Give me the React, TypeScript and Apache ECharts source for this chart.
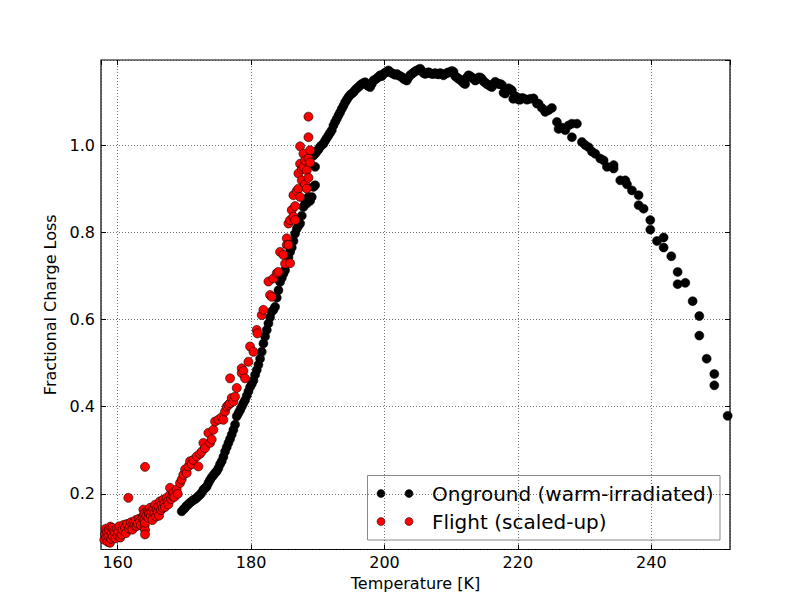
import React, { useEffect, useRef } from "react";
import * as echarts from "echarts";

// Onground (warm-irradiated): temperature [K] and fractional charge loss
const ongroundT = [
  169.6, 169.9, 170.1, 170.35, 170.6, 170.85, 171.1, 171.35, 171.6, 171.85, 172.1, 172.35, 172.6, 172.85,
  173.1, 173.35, 173.6, 173.85, 174.1, 174.35, 174.6, 174.85, 175.1, 175.35, 175.6, 175.85, 176.1, 176.35,
  176.6, 176.85, 177.1, 177.35, 177.6, 177.85, 178.1, 178.35, 178.6, 178.85, 179.1, 179.35, 179.6, 179.85,
  180.1, 180.35, 180.6, 180.85, 181.1, 181.35, 181.6, 181.85, 182.1, 182.35, 182.6, 182.85, 183.1, 183.35,
  183.6, 183.85, 184.1, 184.35, 184.6, 184.85, 185.1, 185.35, 185.6, 185.85, 186.1, 186.35, 186.6, 186.85,
  187.1, 187.35, 187.6, 187.85, 188.1, 188.35, 188.6, 188.85, 189.1, 189.35, 189.6, 189.6, 189.35, 189.6,
  189.85, 190.1, 190.35, 190.6, 190.85, 191.1, 191.35, 191.6, 191.85, 192.1, 192.35, 192.6, 192.85, 193.1,
  193.35, 193.6, 193.85, 194.1, 194.35, 194.6, 194.85, 195.1, 195.35, 195.6, 195.85, 196.1, 196.35, 196.6,
  196.85, 197.1, 197.35, 197.6, 197.85, 198.1, 198.35, 198.6, 198.85, 199.1, 199.35, 199.6, 199.85, 200.1,
  200.35, 200.6, 200.85, 201.1, 201.35, 201.6, 201.85, 202.1, 202.35, 202.6, 202.85, 203.1, 203.35, 203.6,
  203.85, 204.1, 204.35, 204.6, 204.85, 205.1, 205.35, 205.6, 205.85, 206.1, 206.35, 206.6, 206.85, 207.1,
  207.35, 207.6, 207.85, 208.1, 208.35, 208.6, 208.85, 209.1, 209.35, 209.6, 209.85, 210.1, 210.35, 210.6,
  210.85, 211.1, 211.35, 211.6, 211.85, 212.1, 212.35, 212.6, 212.85, 213.1, 213.35, 213.6, 213.85, 214.1,
  214.35, 214.6, 214.85, 215.1, 215.35, 215.6, 215.85, 216.1, 216.35, 216.6, 216.85, 217.1, 217.35, 217.6,
  217.85, 218.1, 218.35, 218.6, 218.85, 219.1, 219.3, 219.6, 219.85, 220.1, 220.35, 220.6, 220.85, 221.35,
  221.85, 222.35, 222.85, 223.1, 223.6, 224.1, 224.6, 225.1, 225.85, 226.1, 226.6, 227.1, 227.6, 228.1,
  228.1, 228.85, 229.6, 230.1, 230.6, 231.1, 231.6, 232.35, 232.85, 233.35, 234.35, 234.35, 235.35, 236.1,
  236.35, 237.1, 238.1, 238.1, 238.85, 239.85, 239.85, 240.85, 241.85, 241.85, 243.0, 243.95, 243.95, 245.1,
  246.2, 247.2, 247.2, 248.3, 249.45, 249.45, 251.45,
];
const ongroundLoss = [
  0.16, 0.165, 0.168, 0.173, 0.176, 0.18, 0.183, 0.186, 0.188, 0.191, 0.195, 0.198, 0.203, 0.21,
  0.213, 0.217, 0.225, 0.232, 0.238, 0.243, 0.248, 0.252, 0.259, 0.268, 0.275, 0.285, 0.297, 0.307,
  0.317, 0.326, 0.336, 0.347, 0.359, 0.378, 0.385, 0.392, 0.4, 0.408, 0.415, 0.425, 0.435, 0.445,
  0.452, 0.46, 0.473, 0.484, 0.496, 0.51, 0.526, 0.545, 0.561, 0.576, 0.591, 0.605, 0.618, 0.622,
  0.629, 0.65, 0.667, 0.686, 0.695, 0.705, 0.713, 0.729, 0.742, 0.755, 0.765, 0.78, 0.797, 0.808,
  0.815, 0.82, 0.838, 0.858, 0.866, 0.866, 0.881, 0.872, 0.881, 0.904, 0.908, 0.95, 0.976, 0.98,
  0.985, 0.99, 0.996, 1.0, 1.003, 1.01, 1.016, 1.022, 1.028, 1.034, 1.045, 1.053, 1.06, 1.068,
  1.075, 1.083, 1.09, 1.098, 1.104, 1.11, 1.115, 1.118, 1.121, 1.126, 1.13, 1.133, 1.137, 1.14,
  1.142, 1.144, 1.138, 1.135, 1.133, 1.14, 1.148, 1.15, 1.153, 1.156, 1.16, 1.158, 1.163, 1.166,
  1.168, 1.171, 1.167, 1.165, 1.163, 1.161, 1.163, 1.16, 1.158, 1.156, 1.152, 1.15, 1.148, 1.155,
  1.16, 1.163, 1.166, 1.169, 1.171, 1.173, 1.175, 1.17, 1.165, 1.163, 1.165, 1.167, 1.165, 1.163,
  1.163, 1.165, 1.163, 1.162, 1.165, 1.163, 1.16, 1.163, 1.165, 1.167, 1.167, 1.17, 1.168, 1.158,
  1.155, 1.152, 1.15, 1.146, 1.142, 1.14, 1.155, 1.16, 1.158, 1.155, 1.152, 1.148, 1.15, 1.155,
  1.155, 1.152, 1.146, 1.143, 1.14, 1.138, 1.135, 1.133, 1.14, 1.145, 1.142, 1.14, 1.14, 1.138,
  1.12, 1.118, 1.125, 1.13, 1.128, 1.125, 1.106, 1.112, 1.11, 1.104, 1.104, 1.108, 1.107, 1.104,
  1.106, 1.107, 1.095, 1.095, 1.085, 1.076, 1.08, 1.085, 1.053, 1.037, 1.04, 1.034, 1.045, 1.049,
  1.018, 1.049, 1.007, 1.0, 0.995, 0.985, 0.98, 0.969, 0.965, 0.95, 0.954, 0.946, 0.919, 0.919,
  0.91, 0.896, 0.885, 0.862, 0.854, 0.828, 0.806, 0.78, 0.788, 0.765, 0.745, 0.709, 0.681, 0.684,
  0.642, 0.608, 0.563, 0.51, 0.475, 0.449, 0.379,
];

// Flight (scaled-up)
const flightT = [
  158.0, 158.1, 158.2, 158.3, 158.4, 158.5, 158.6, 158.7, 158.85, 158.9, 159.0, 159.1, 159.2, 159.3,
  159.45, 159.6, 159.7, 159.85, 160.0, 160.1, 160.25, 160.4, 160.6, 160.7, 160.9, 161.1, 161.25, 161.4,
  161.6, 161.7, 161.85, 162.0, 162.2, 162.35, 162.55, 162.7, 162.85, 163.0, 163.2, 163.35, 163.5, 163.7,
  163.85, 163.85, 164.0, 164.0, 164.05, 164.1, 164.1, 164.1, 164.1, 164.3, 164.45, 164.6, 164.6, 164.75,
  164.85, 165.0, 165.1, 165.2, 165.35, 165.5, 165.6, 165.75, 165.85, 166.0, 166.1, 166.2, 166.35, 166.5,
  166.6, 166.75, 166.85, 167.0, 167.1, 167.35, 167.5, 167.6, 167.85, 167.85, 168.0, 168.2, 168.35, 168.5,
  168.85, 169.0, 169.35, 169.6, 169.85, 170.1, 170.35, 170.6, 170.85, 171.1, 171.35, 171.85, 172.1, 172.35,
  172.6, 172.85, 173.1, 173.6, 173.85, 174.1, 174.35, 174.6, 175.1, 175.6, 175.85, 176.1, 176.35, 176.6,
  176.85, 176.85, 177.1, 177.35, 177.6, 177.85, 178.6, 178.6, 178.85, 179.1, 179.6, 179.85, 180.35, 180.85,
  180.95, 181.6, 181.85, 182.6, 182.85, 183.1, 183.35, 183.85, 184.1, 184.35, 184.85, 185.1, 185.35, 185.35,
  185.6, 185.6, 185.85, 185.85, 186.1, 186.35, 186.35, 186.6, 186.6, 186.85, 187.1, 187.1, 187.35, 187.35,
  187.35, 187.6, 187.6, 187.85, 187.85, 188.1, 188.1, 188.35, 188.35, 188.6, 188.6, 188.6, 188.6, 188.85,
  188.85,
];
const flightLoss = [
  0.095, 0.108, 0.12, 0.1, 0.113, 0.09, 0.103, 0.118, 0.088, 0.125, 0.097, 0.11, 0.122, 0.102,
  0.115, 0.111, 0.098, 0.12, 0.105, 0.114, 0.126, 0.1, 0.107, 0.118, 0.129, 0.122, 0.11, 0.131,
  0.191, 0.12, 0.126, 0.135, 0.118, 0.134, 0.128, 0.14, 0.126, 0.132, 0.143, 0.137, 0.128, 0.145,
  0.149, 0.164, 0.155, 0.14, 0.128, 0.117, 0.107, 0.262, 0.134, 0.15, 0.162, 0.16, 0.145, 0.155,
  0.168, 0.15, 0.16, 0.14, 0.164, 0.155, 0.175, 0.148, 0.165, 0.158, 0.172, 0.15, 0.183, 0.163,
  0.176, 0.168, 0.187, 0.178, 0.17, 0.191, 0.182, 0.176, 0.198, 0.214, 0.188, 0.195, 0.202, 0.193,
  0.21, 0.2, 0.225, 0.233, 0.244, 0.256, 0.248, 0.263, 0.275, 0.268, 0.278, 0.286, 0.263, 0.292,
  0.297, 0.317, 0.305, 0.34, 0.317, 0.325, 0.347, 0.366, 0.37, 0.376, 0.37, 0.389, 0.4, 0.404,
  0.408, 0.465, 0.42, 0.412, 0.423, 0.443, 0.488, 0.477, 0.482, 0.465, 0.503, 0.538, 0.526, 0.576,
  0.568, 0.61, 0.622, 0.687, 0.656, 0.652, 0.694, 0.706, 0.709, 0.755, 0.748, 0.728, 0.786, 0.771,
  0.82, 0.771, 0.828, 0.729, 0.851, 0.885, 0.836, 0.828, 0.86, 0.895, 0.935, 0.9, 0.957, 0.997,
  0.881, 0.919, 0.945, 0.98, 0.95, 0.965, 0.91, 0.942, 0.9, 0.969, 1.018, 1.065, 0.925, 0.988,
  0.96,
];

const seriesNames = ["Onground (warm-irradiated)", "Flight (scaled-up)"];
const xTitle = "Temperature [K]";
const yTitle = "Fractional Charge Loss";
const xRange = [157.5, 251.8];
const yRange = [0.0725, 1.195];

const FONT = "DejaVu Sans";

export default function App() {
  const ref = useRef<HTMLDivElement>(null);

  useEffect(() => {
    if (!ref.current) return;
    const chart = echarts.init(ref.current, undefined, { renderer: "svg" });

    const onground = ongroundT.map((t, i) => [t, ongroundLoss[i]]);
    const flight = flightT.map((t, i) => [t, flightLoss[i]]);

    const gridLine = { show: true, lineStyle: { color: "#333", width: 0.7, type: [1, 2] } };
    const tick = { show: true, inside: true, length: 5, lineStyle: { color: "#000", width: 1 } };

    const legendRows = [
      { y: 493.5, color: "#000", label: seriesNames[0] },
      { y: 521.5, color: "#ff0000", label: seriesNames[1] },
    ];
    const legendChildren: any[] = [
      {
        type: "rect",
        shape: { x: 367.5, y: 475.5, width: 352.5, height: 64.5 },
        style: { fill: "none", stroke: "#8a8a8a", lineWidth: 1 },
      },
    ];
    legendRows.forEach((r) => {
      [381, 409].forEach((cx) => {
        legendChildren.push({
          type: "circle",
          shape: { cx, cy: r.y, r: 4 },
          style: { fill: r.color, stroke: "#000", lineWidth: 0.5 },
        });
      });
      legendChildren.push({
        type: "text",
        x: 432,
        y: r.y,
        style: {
          text: r.label,
          fill: "#000",
          font: `20px '${FONT}'`,
          verticalAlign: "middle",
          align: "left",
        },
      });
    });

    chart.setOption({
      animation: false,
      backgroundColor: "#fff",
      textStyle: { fontFamily: FONT },
      grid: {
        left: 101,
        top: 60,
        right: 82,
        bottom: 62.5,
        show: true,
        borderColor: "#000",
        borderWidth: 1.2,
        containLabel: false,
        outerBoundsMode: "none",
      },
      xAxis: [
        {
          type: "value",
          min: xRange[0],
          max: xRange[1],
          splitNumber: 5,
          axisLine: { show: false },
          axisTick: tick,
          splitLine: gridLine,
          axisLabel: {
            color: "#000",
            fontSize: 16,
            fontFamily: FONT,
            margin: 5,
            showMinLabel: false,
            showMaxLabel: false,
            formatter: (v: number) => (Math.abs(v % 20) < 1e-6 ? String(Math.round(v)) : ""),
          },
          name: xTitle,
          nameLocation: "middle",
          nameGap: 20,
          nameTextStyle: { color: "#000", fontSize: 16, fontFamily: FONT },
        },
        {
          type: "value",
          position: "top",
          min: xRange[0],
          max: xRange[1],
          splitNumber: 5,
          axisLine: { show: false },
          axisTick: tick,
          splitLine: { show: false },
          axisLabel: { show: false },
        },
      ],
      yAxis: [
        {
          type: "value",
          min: yRange[0],
          max: yRange[1],
          splitNumber: 5,
          axisLine: { show: false },
          axisTick: tick,
          splitLine: gridLine,
          axisLabel: {
            color: "#000",
            fontSize: 16,
            fontFamily: FONT,
            margin: 6,
            showMinLabel: false,
            showMaxLabel: false,
            formatter: (v: number) => {
              const r = Math.round(v * 10) / 10;
              return Math.abs(r - v) < 1e-6 ? r.toFixed(1) : "";
            },
          },
          name: yTitle,
          nameLocation: "middle",
          nameRotate: 90,
          nameGap: 33,
          nameTextStyle: { color: "#000", fontSize: 16, fontFamily: FONT },
        },
        {
          type: "value",
          position: "right",
          min: yRange[0],
          max: yRange[1],
          splitNumber: 5,
          axisLine: { show: false },
          axisTick: tick,
          splitLine: { show: false },
          axisLabel: { show: false },
        },
      ],
      series: [
        {
          name: seriesNames[0],
          type: "scatter",
          data: onground,
          symbol: "circle",
          symbolSize: 9,
          itemStyle: { color: "#000", borderColor: "#000", borderWidth: 0.5, opacity: 1 },
          z: 2,
        },
        {
          name: seriesNames[1],
          type: "scatter",
          data: flight,
          symbol: "circle",
          symbolSize: 9,
          itemStyle: { color: "#ff0000", borderColor: "#000", borderWidth: 0.6, opacity: 1 },
          z: 3,
        },
      ],
      graphic: [{ type: "group", children: legendChildren }],
    });

    return () => chart.dispose();
  }, []);

  return (
    <div
      ref={ref}
      style={{ position: "fixed", left: 0, top: 0, width: 812, height: 612, background: "#fff" }}
    />
  );
}
